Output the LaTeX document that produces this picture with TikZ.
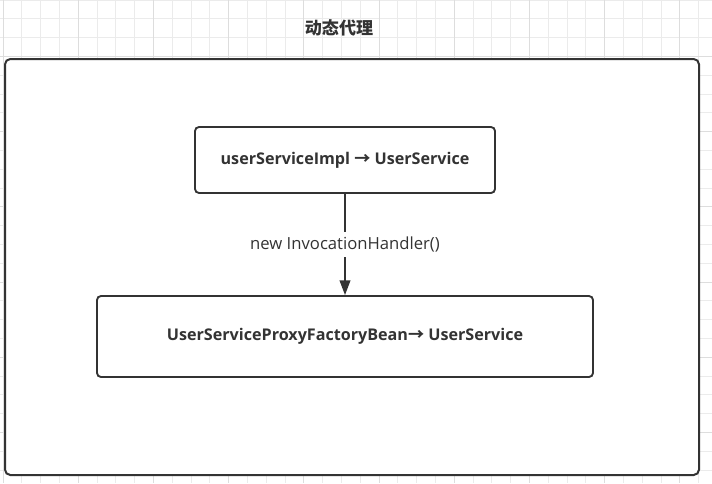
\documentclass[tikz,border=0pt]{standalone}
\usepackage{fontspec}
\setmainfont{Open Sans}
\newfontfamily\cjk{Noto Sans CJK SC}
\usetikzlibrary{arrows.meta}

\definecolor{Cgridminor}{HTML}{EBEBEB}
\definecolor{Cgridmajor}{HTML}{DDDDDD}
\definecolor{Cinkdark}{HTML}{333333}

\begin{document}
\begin{tikzpicture}[x=0.75pt,y=-0.75pt,
	box/.style={draw=Cinkdark,line width=1.4pt,rounded corners=3pt,fill=white,
		text=Cinkdark,font=\bfseries\fontsize{12.1}{15}\selectfont},
	flow/.style={-{Triangle[length=11pt,width=8pt]},draw=Cinkdark,line width=1.2pt}]
	\useasboundingbox (0,0) rectangle (712,483);
	% grid behind the frame
	\foreach \i in {0,...,37} {
		\draw[Cgridminor,line width=0.6pt] (3+18.8*\i,0) -- (3+18.8*\i,483);
	}
	\foreach \j in {0,...,25} {
		\draw[Cgridminor,line width=0.6pt] (0,18.8*\j) -- (712,18.8*\j);
	}
	\foreach \i in {0,...,9} {
		\draw[Cgridmajor,line width=0.7pt] (3+75.2*\i,0) -- (3+75.2*\i,483);
	}
	\foreach \j in {0,...,6} {
		\draw[Cgridmajor,line width=0.7pt] (0,56.4+75.2*\j) -- (712,56.4+75.2*\j);
	}
	\node[text=Cinkdark,font=\cjk\bfseries\fontsize{12.8}{15}\selectfont] (title) at (339,28) {动态代理};
	\draw[draw=Cinkdark,line width=1.5pt,rounded corners=4pt,fill=white] (5,59) rectangle (699,475);
	\node[box,minimum width=225pt,minimum height=49.5pt] (impl) at (345,160)
		{userServiceImpl {\cjk →} UserService};
	\node[box,minimum width=372pt,minimum height=60.75pt] (proxy) at (345,336.5)
		{UserServiceProxyFactoryBean{\cjk →} UserService};
	\draw[flow] (impl) -- node[fill=white,text=Cinkdark,font=\fontsize{12.5}{14}\selectfont] (hlabel) {new InvocationHandler()} (proxy);
\end{tikzpicture}
\end{document}
